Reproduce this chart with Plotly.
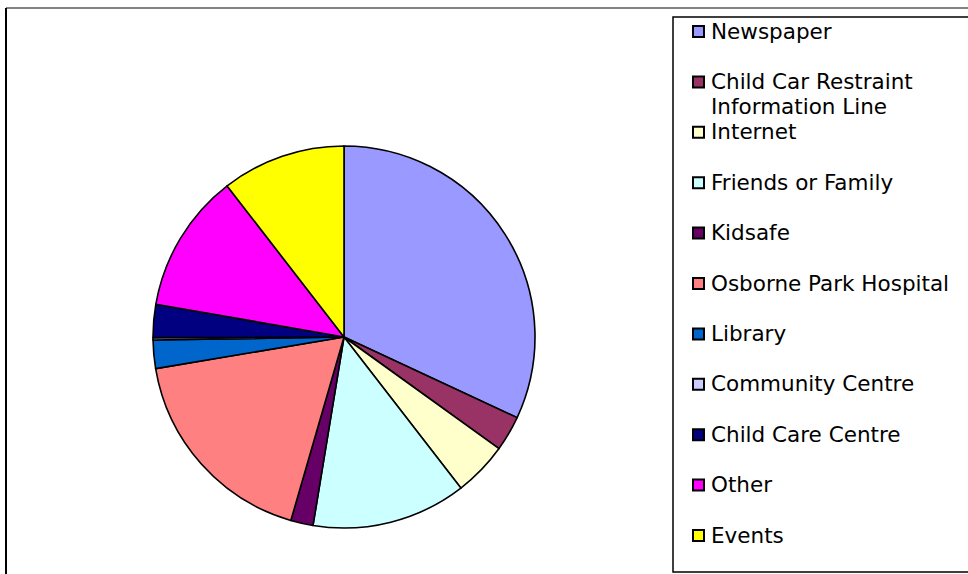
import plotly.graph_objects as go

# Survey: where respondents heard about the service (share of responses, %)
labels = [
    "Newspaper",
    "Child Car Restraint<br>Information Line",
    "Internet",
    "Friends or Family",
    "Kidsafe",
    "Osborne Park Hospital",
    "Library",
    "Community Centre",
    "Child Care Centre",
    "Other",
    "Events",
]
values = [32.0, 3.0, 4.6, 13.1, 1.9, 17.9, 2.4, 0.2, 2.8, 11.8, 10.5]
colors = [
    "#9999FF", "#993366", "#FFFFCC", "#CCFFFF", "#660066", "#FF8080",
    "#0066CC", "#CCCCFF", "#000080", "#FF00FF", "#FFFF00",
]

W, H = 968, 574


def px(x):
    return x / W


def py(y):
    return 1 - y / H


# Pie placement (centre and radius in pixels)
cx, cy, r = 344, 337, 191

fig = go.Figure(
    go.Pie(
        labels=labels,
        values=values,
        marker=dict(colors=colors, line=dict(color="black", width=1.6)),
        sort=False,
        direction="clockwise",
        rotation=0,
        textinfo="none",
        hoverinfo="label+percent",
        showlegend=False,
        domain=dict(x=[px(cx - r), px(cx + r)], y=[py(cy + r), py(cy - r)]),
    )
)

shapes = [
    # outer chart frame
    dict(type="line", xref="paper", yref="paper", x0=px(6), x1=px(970),
         y0=py(8), y1=py(8), line=dict(color="#5a5a5a", width=1.5)),
    dict(type="line", xref="paper", yref="paper", x0=px(6), x1=px(6),
         y0=py(8), y1=py(576), line=dict(color="black", width=2)),
    # legend box
    dict(type="rect", xref="paper", yref="paper", x0=px(673), x1=px(975),
         y0=py(572), y1=py(17), line=dict(color="black", width=1.5),
         fillcolor="rgba(0,0,0,0)"),
]

# Hand-built legend: coloured square + label; wrapped labels get one
# annotation per line with a tight line pitch.
annotations = []
top, step, line_pitch = 31, 50.4, 25
legend_font = dict(family="DejaVu Sans", size=21.5, color="black")
for i, (lab, col) in enumerate(zip(labels, colors)):
    yc = top + i * step
    shapes.append(dict(type="rect", xref="paper", yref="paper",
                       x0=px(693), x1=px(704), y0=py(yc + 6), y1=py(yc - 5),
                       fillcolor=col, line=dict(color="black", width=2)))
    for j, part in enumerate(lab.split("<br>")):
        annotations.append(dict(
            xref="paper", yref="paper", x=px(709), y=py(yc + j * line_pitch),
            xanchor="left", yanchor="middle", align="left", showarrow=False,
            text=part, font=legend_font,
        ))

fig.update_layout(
    width=W, height=H,
    margin=dict(l=0, r=0, t=0, b=0),
    paper_bgcolor="white",
    plot_bgcolor="white",
    shapes=shapes,
    annotations=annotations,
)

fig.write_html("out.html")
